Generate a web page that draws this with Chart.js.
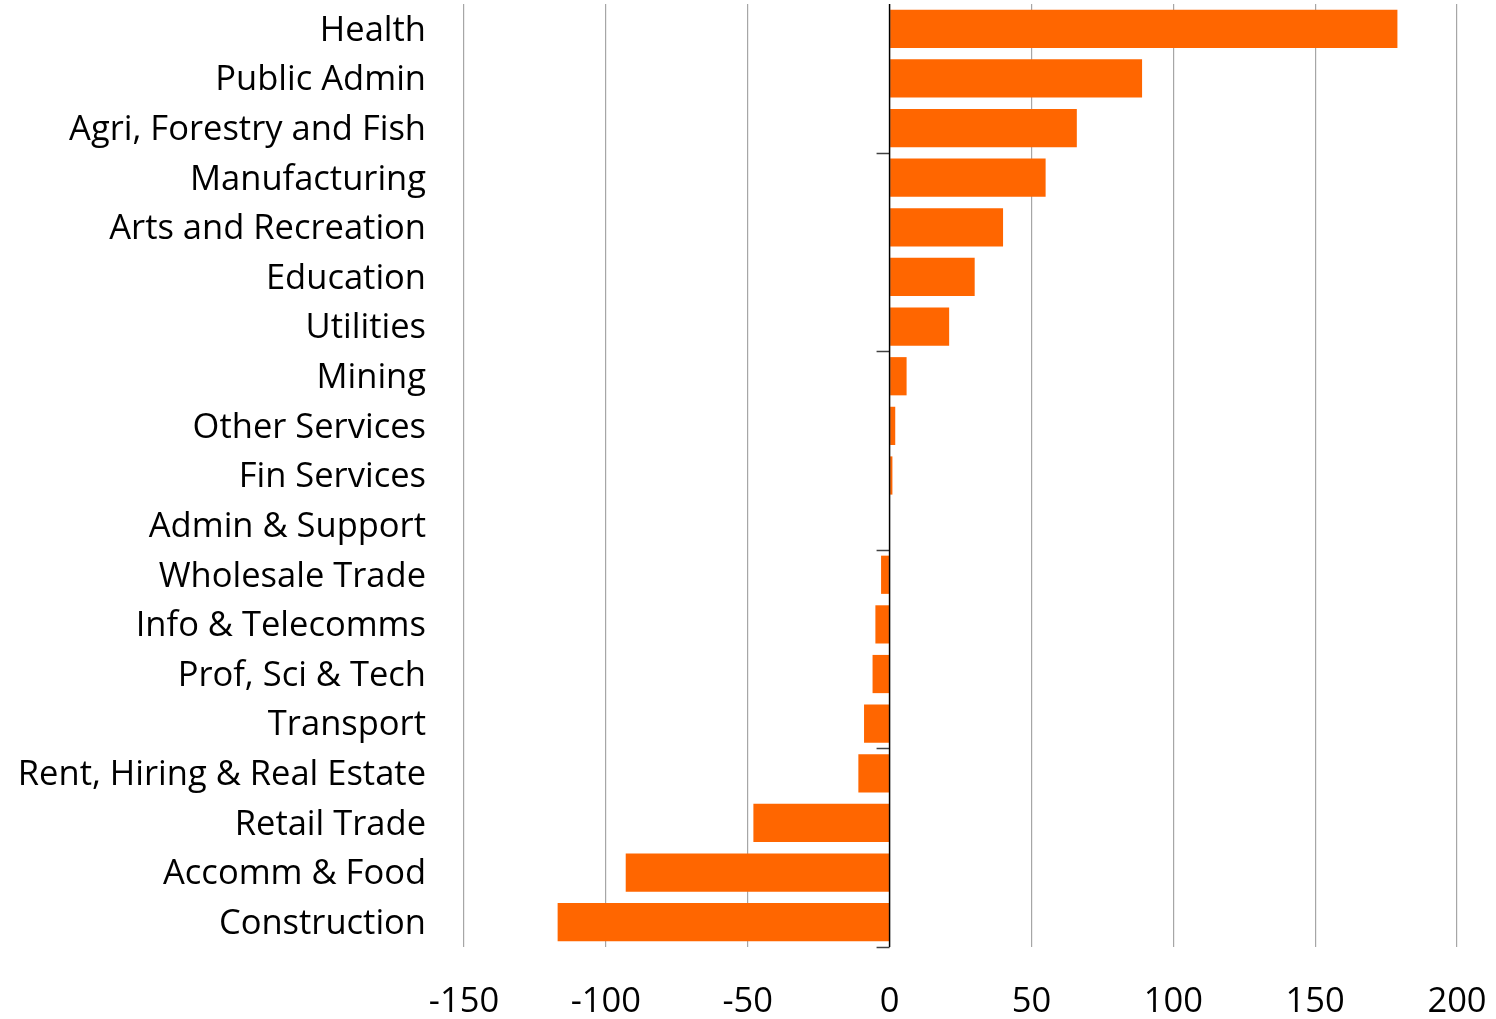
<!DOCTYPE html>
<html>
<head>
<meta charset="utf-8">
<script src="https://cdn.jsdelivr.net/npm/chart.js@4.4.0/dist/chart.umd.min.js"></script>
<style>
  html,body{margin:0;padding:0;background:#fff}
  #wrap{width:1496px;height:1019px;position:relative}
</style>
</head>
<body>
<div id="wrap"><canvas id="chart"></canvas></div>
<script>
// ─── DATA ───────────────────────────────────────────────────────────
const industries = ['Health','Public Admin','Agri, Forestry and Fish','Manufacturing','Arts and Recreation','Education','Utilities','Mining','Other Services','Fin Services','Admin & Support','Wholesale Trade','Info & Telecomms','Prof, Sci & Tech','Transport','Rent, Hiring & Real Estate','Retail Trade','Accomm & Food','Construction'];
const change = [179, 89, 66, 55, 40, 30, 21, 6, 2, 1, 0, -3, -5, -6, -9, -11, -48, -93, -117];
const xTicks = [-150, -100, -50, 0, 50, 100, 150, 200];

const FONT = "'Open Sans', 'Noto Sans', sans-serif";

// small tick marks on the zero line, every 4 categories counted from the bottom
const zeroTicks = {
  id:'zeroTicks',
  afterDatasetsDraw(chart){
    const {ctx, chartArea, scales:{x,y}} = chart;
    const x0 = x.getPixelForValue(0);
    const n = industries.length;
    const marks = [];
    for(let i=n-1;i>=0;i-=4){
      if(i===n-1){ marks.push(chartArea.bottom); continue; }
      marks.push((y.getPixelForValue(i)+y.getPixelForValue(i+1))/2);
    }
    ctx.save();
    ctx.strokeStyle='#404040';
    ctx.lineWidth=1.5;
    marks.forEach(py=>{
      ctx.beginPath();
      ctx.moveTo(x0-13,Math.round(py)+0.5);
      ctx.lineTo(x0,Math.round(py)+0.5);
      ctx.stroke();
    });
    // zero line on top of bars
    ctx.strokeStyle='#000';
    ctx.lineWidth=1.5;
    ctx.beginPath();
    ctx.moveTo(x0,chartArea.top);
    ctx.lineTo(x0,chartArea.bottom);
    ctx.stroke();
    ctx.restore();
  }
};

new Chart(document.getElementById('chart'),{
  type:'bar',
  data:{labels:industries,datasets:[{data:change,backgroundColor:'#FF6600',borderWidth:0,barPercentage:0.77,categoryPercentage:1}]},
  options:{
    indexAxis:'y',
    responsive:true,
    maintainAspectRatio:false,
    animation:false,
    layout:{padding:{top:4,right:39,left:0,bottom:0}},
    plugins:{legend:{display:false},tooltip:{enabled:false}},
    scales:{
      x:{
        min:-150,max:200,
        afterBuildTicks:s=>{s.ticks=xTicks.map(v=>({value:v}));},
        afterFit:s=>{s.height=72;s.paddingLeft=0;s.paddingRight=0;},
        grid:{color:c=>c.tick&&c.tick.value===0?'rgba(0,0,0,0)':'#a6a6a6',lineWidth:1.2,drawTicks:false},
        border:{display:false},
        ticks:{font:{family:FONT,size:34.5},color:'#000',padding:34,maxRotation:0}
      },
      y:{
        afterFit:s=>{s.width=464;s.paddingTop=0;s.paddingBottom=0;},
        grid:{display:false,drawTicks:false},
        border:{display:false},
        ticks:{font:{family:FONT,size:34.5},color:'#000',padding:38,autoSkip:false,labelOffset:2}
      }
    }
  },
  plugins:[zeroTicks]
});
</script>
</body>
</html>
